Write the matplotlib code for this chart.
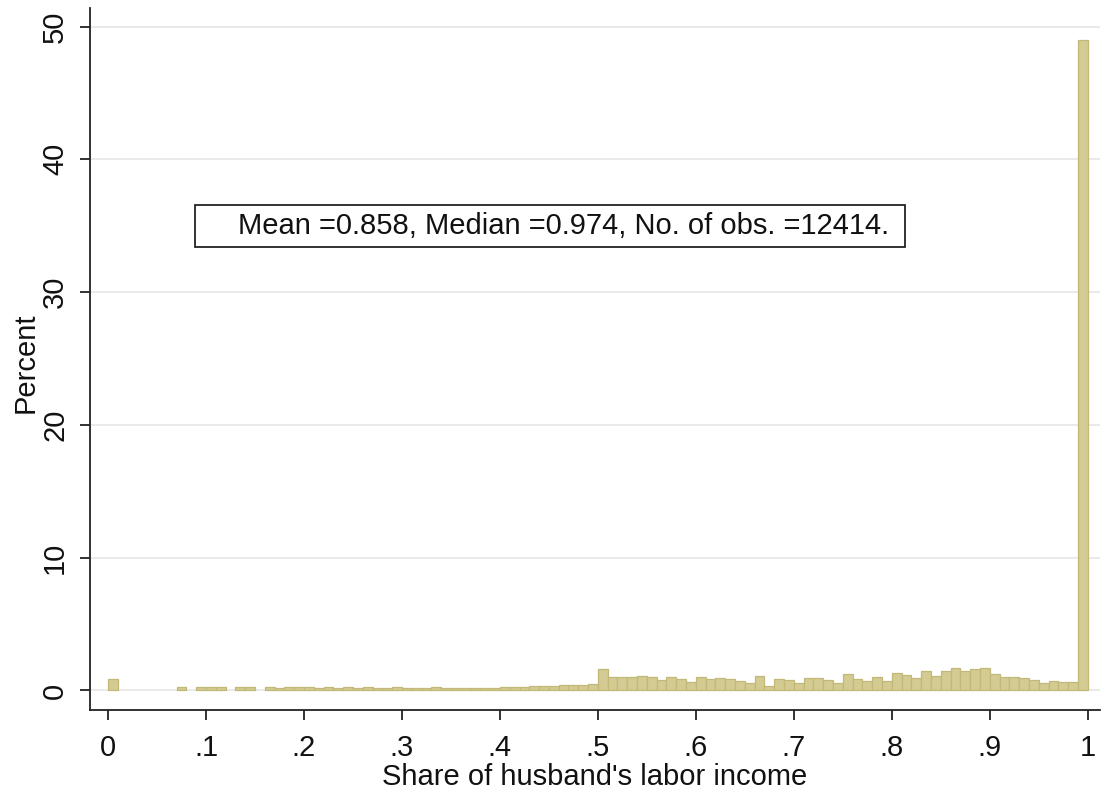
import numpy as np
import matplotlib
matplotlib.use("Agg")
import matplotlib.pyplot as plt
from matplotlib.patches import Rectangle

# Histogram of the husband's share of household labor income (percent of couples per 0.01 bin)
bin_width = 0.01
bin_edges = np.round(np.arange(0.0, 1.0, bin_width), 2)

percent = [
    0.90, 0.00, 0.00, 0.00, 0.00, 0.00, 0.00, 0.25, 0.00, 0.25,   # 0.00-0.09
    0.25, 0.25, 0.00, 0.25, 0.25, 0.00, 0.25, 0.22, 0.24, 0.23,   # 0.10-0.19
    0.25, 0.22, 0.24, 0.20, 0.23, 0.22, 0.24, 0.20, 0.22, 0.24,   # 0.20-0.29
    0.21, 0.22, 0.20, 0.23, 0.21, 0.20, 0.22, 0.20, 0.21, 0.22,   # 0.30-0.39
    0.25, 0.27, 0.28, 0.30, 0.30, 0.33, 0.42, 0.40, 0.45, 0.50,   # 0.40-0.49
    1.65, 1.00, 1.00, 1.05, 1.12, 1.00, 0.80, 1.00, 0.85, 0.65,   # 0.50-0.59
    1.00, 0.85, 0.95, 0.85, 0.75, 0.60, 1.10, 0.37, 0.87, 0.77,   # 0.60-0.69
    0.60, 0.92, 0.92, 0.77, 0.60, 1.22, 0.87, 0.70, 1.00, 0.75,   # 0.70-0.79
    1.30, 1.20, 0.95, 1.50, 1.08, 1.48, 1.73, 1.46, 1.60, 1.66,   # 0.80-0.89
    1.25, 0.98, 1.02, 0.92, 0.78, 0.53, 0.68, 0.61, 0.61, 49.0,   # 0.90-0.99
]

x_ticks = [0.0, 0.1, 0.2, 0.3, 0.4, 0.5, 0.6, 0.7, 0.8, 0.9, 1.0]
x_tick_labels = ["0", ".1", ".2", ".3", ".4", ".5", ".6", ".7", ".8", ".9", "1"]
y_ticks = [0, 10, 20, 30, 40, 50]

mean_share = 0.858
median_share = 0.974
n_obs = 12414

plt.rcParams["font.family"] = ["Liberation Sans", "DejaVu Sans"]

fig = plt.figure(figsize=(11.03, 7.91), dpi=100)
ax = fig.add_axes([90 / 1103, 81 / 791, 1010 / 1103, 702 / 791])

# Empty bins are left undrawn so no outline shows along the baseline
heights = np.asarray(percent)
filled = heights > 0
bar_fill = "#d3cb92"
bar_edge = "#c2b877"
ax.bar(bin_edges[filled], heights[filled], width=bin_width, align="edge",
       color=bar_fill, edgecolor=bar_edge, linewidth=0.9, zorder=3)

ax.set_xlim(-0.0184, 1.0125)
ax.set_ylim(-1.47, 51.4)

ax.set_yticks(y_ticks)
ax.set_xticks(x_ticks)
ax.set_xticklabels(x_tick_labels)
ax.grid(axis="y", color="#eaeaea", linewidth=1.4, zorder=0)
ax.grid(axis="x", visible=False)

for side in ("top", "right"):
    ax.spines[side].set_visible(False)
for side in ("left", "bottom"):
    ax.spines[side].set_linewidth(1.3)
    ax.spines[side].set_color("#222222")

ax.tick_params(axis="both", direction="out", length=7, width=1.3, color="#222222",
               labelsize=21, labelcolor="#111111")
ax.tick_params(axis="x", pad=10)
ax.tick_params(axis="y", pad=8, labelrotation=90)
for lbl in ax.get_yticklabels():
    lbl.set_verticalalignment("center")

ax.set_xlabel("Share of husband's labor income", fontsize=21, color="#111111", labelpad=1)
ax.set_ylabel("Percent", fontsize=21, color="#111111", va="center")
ax.yaxis.set_label_coords(-0.064, 0.494)

# Summary statistics box
ax.add_patch(Rectangle((0.0888, 33.4), 0.7245, 3.2, facecolor="white",
                       edgecolor="#111111", linewidth=1.2, zorder=4))
stats_text = f"Mean ={mean_share:.3f}, Median ={median_share:.3f}, No. of obs. ={n_obs}."
ax.text(0.1327, 35.0, stats_text, fontsize=21, ha="left", va="center",
        color="#111111", zorder=5)

fig.savefig("out.png", dpi=100, facecolor="white")
